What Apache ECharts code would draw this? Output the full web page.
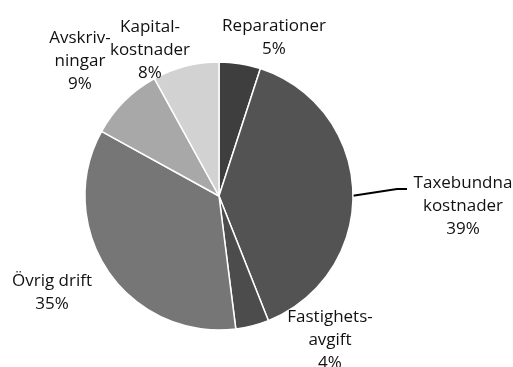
<!DOCTYPE html>
<html>
<head>
<meta charset="utf-8">
<script src="https://cdn.jsdelivr.net/npm/echarts@6/dist/echarts.min.js"></script>
<style>
html,body{margin:0;padding:0;background:#fff;}
#c{width:513px;height:367px;}
</style>
</head>
<body>
<div id="c"></div>
<script>
var categories = ['Reparationer', 'Taxebundna kostnader', 'Fastighetsavgift', 'Övrig drift', 'Avskrivningar', 'Kapitalkostnader'];
var labelTexts = ['Reparationer', 'Taxebundna\nkostnader', 'Fastighets-\navgift', 'Övrig drift', 'Avskriv-\nningar', 'Kapital-\nkostnader'];
var values = [5, 39, 4, 35, 9, 8];

var colors = ['#3e3e3e', '#535353', '#4c4c4c', '#767676', '#a8a8a8', '#d2d2d2'];
var labelAnchors = [[274, 15], [463, 172], [330, 306], [52, 270], [80, 27], [150, 16]];

var chart = echarts.init(document.getElementById('c'), null, {renderer: 'canvas'});
var data = categories.map(function (c, i) {
  return {
    name: c,
    value: values[i],
    itemStyle: {color: colors[i]},
    label: {formatter: labelTexts[i] + '\n' + values[i] + '%'},
    labelLine: {show: i === 1}
  };
});
chart.setOption({
  animation: false,
  backgroundColor: '#fff',
  series: [{
    type: 'pie',
    center: [219, 196],
    radius: [0, 134],
    startAngle: 90,
    clockwise: true,
    avoidLabelOverlap: false,
    itemStyle: {borderColor: '#fff', borderWidth: 1.5},
    label: {
      show: true,
      position: 'outside',
      color: '#111',
      fontFamily: 'Open Sans',
      fontSize: 17,
      lineHeight: 23,
      align: 'center'
    },
    labelLine: {lineStyle: {color: '#000', width: 2}, length: 20, length2: 10},
    labelLayout: function (p) {
      var a = labelAnchors[p.dataIndex];
      var out = {x: a[0], y: a[1], align: 'center', verticalAlign: 'top'};
      if (p.dataIndex === 1 && p.labelLinePoints) {
        var s = p.labelLinePoints[0];
        var endX = a[0] - 56, endY = a[1] + 17;
        out.labelLinePoints = [[s[0], s[1] + 4], [endX - 10, endY], [endX, endY]];
      }
      return out;
    },
    data: data
  }]
});
</script>
</body>
</html>
